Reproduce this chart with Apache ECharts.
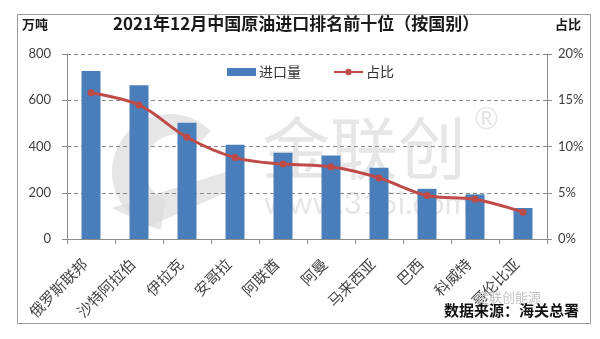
<!DOCTYPE html>
<html>
<head>
<meta charset="utf-8">
<script src="https://cdn.jsdelivr.net/npm/echarts@6/dist/echarts.min.js"></script>
<style>
  html, body { margin: 0; padding: 0; background: #fff; }
  #chart { width: 600px; height: 339px; }
</style>
</head>
<body>
<div id="chart"></div>
<script>
// 2021年12月中国原油进口前十位国家：进口量（万吨）与占比（%）
const countries = ['俄罗斯联邦', '沙特阿拉伯', '伊拉克', '安哥拉', '阿联酋', '阿曼', '马来西亚', '巴西', '科威特', '哥伦比亚'];
const importVolume = [726, 665, 503, 408, 373, 361, 308, 217, 193, 134];
const importShare = [15.8, 14.5, 11.0, 8.8, 8.1, 7.8, 6.6, 4.7, 4.3, 2.9];
const volumeTicks = [0, 200, 400, 600, 800];
const shareTicks = [0, 5, 10, 15, 20];

const CJK = '"Noto Sans CJK SC", "Noto Sans", sans-serif';
const NUM = 'Lato, "Open Sans", sans-serif';
const barColor = '#4a7ebb';
const lineColor = '#be4b48';
const mark = '#dcdcdc';

const chart = echarts.init(document.getElementById('chart'), null, { renderer: 'canvas' });

chart.setOption({
  animation: false,
  backgroundColor: '#fff',
  grid: { left: 67, right: 53, top: 54, bottom: 100 },
  graphic: [
    // frame
    { type: 'rect', z: -10, shape: { x: 17.5, y: 14.5, width: 573, height: 309 },
      style: { fill: 'none', stroke: '#9a9a9a', lineWidth: 1 } },
    // watermark logo
    { type: 'group', z: -5, silent: true, children: [
      { type: 'sector', shape: { cx: 170, cy: 172, r0: 0, r: 58, startAngle: Math.PI * 0.55, endAngle: Math.PI * 1.75 },
        style: { fill: mark, opacity: 0.7 } },
      { type: 'sector', shape: { cx: 178, cy: 168, r0: 0, r: 34, startAngle: Math.PI * 0.5, endAngle: Math.PI * 1.9 },
        style: { fill: '#fff' } },
      { type: 'polygon', shape: { points: [[112, 208], [232, 170], [232, 190], [150, 226]] },
        style: { fill: mark, opacity: 0.7 } },
      { type: 'text', left: 262, top: 114, style: { text: '金联创', font: '68px ' + CJK, fill: mark, opacity: 0.7 } },
      { type: 'text', left: 474, top: 104, style: { text: '®', font: '30px ' + NUM, fill: mark, opacity: 0.7 } },
      { type: 'text', left: 264, top: 188, style: { text: 'www.315i.com', font: '31px ' + NUM, fill: mark, opacity: 0.7 } }
    ] },
    // titles
    { type: 'text', left: 113, top: 15, style: { text: '2021年12月中国原油进口排名前十位（按国别）', font: 'bold 17px ' + CJK, fill: '#1a1a1a' } },
    { type: 'text', left: 22, top: 18, style: { text: '万吨', font: 'bold 13px ' + CJK, fill: '#1a1a1a' } },
    { type: 'text', left: 555, top: 18, style: { text: '占比', font: 'bold 13px ' + CJK, fill: '#1a1a1a' } },
    // source
    { type: 'text', left: 476, top: 291, z: 5, style: { text: '金联创能源', font: '13px ' + CJK, fill: '#c4c4c4' } },
    { type: 'circle', z: 5, shape: { cx: 488, cy: 299, r: 6 }, style: { fill: 'none', stroke: '#c4c4c4', lineWidth: 1 } },
    { type: 'text', left: 444, top: 303, z: 6, style: { text: '数据来源：海关总署', font: 'bold 15px ' + CJK, fill: '#111' } }
  ],
  legend: {
    left: 222, top: 60,
    itemWidth: 29, itemHeight: 8, itemGap: 32,
    textStyle: { fontFamily: CJK, fontSize: 14, color: '#333', padding: [0, 0, 0, -2] },
    data: [
      { name: '进口量', icon: 'rect' },
      { name: '占比' }
    ]
  },
  xAxis: {
    type: 'category',
    data: countries,
    boundaryGap: true,
    axisLine: { lineStyle: { color: '#8c8c8c' } },
    axisTick: { show: true, length: 5, alignWithLabel: false, lineStyle: { color: '#8c8c8c' } },
    axisLabel: { interval: 0, rotate: 45, margin: 16, padding: [0, 9, 0, 0],
      fontFamily: CJK, fontSize: 15, color: '#444' }
  },
  yAxis: [
    {
      type: 'value', min: 0, max: 800, interval: 200,
      axisLine: { show: true, lineStyle: { color: '#8c8c8c' } },
      axisTick: { show: true, length: 5, lineStyle: { color: '#8c8c8c' } },
      axisLabel: { fontFamily: NUM, fontSize: 13, color: '#404040', margin: 16,
        customValues: volumeTicks },
      splitLine: { show: true, lineStyle: { color: '#8a8a8a', type: [4, 3], width: 1 } }
    },
    {
      type: 'value', min: 0, max: 20, interval: 5,
      axisLine: { show: true, lineStyle: { color: '#8c8c8c' } },
      axisTick: { show: true, length: 5, lineStyle: { color: '#8c8c8c' } },
      axisLabel: { fontFamily: NUM, fontSize: 13, color: '#404040', margin: 11,
        customValues: shareTicks, formatter: v => v + '%' },
      splitLine: { show: false }
    }
  ],
  series: [
    {
      name: '进口量', type: 'bar', yAxisIndex: 0,
      data: importVolume, barWidth: 19,
      itemStyle: { color: barColor }
    },
    {
      name: '占比', type: 'line', yAxisIndex: 1,
      data: importShare, smooth: 0.35,
      symbol: 'circle', symbolSize: 7,
      lineStyle: { color: lineColor, width: 3 },
      itemStyle: { color: lineColor }
    }
  ]
});
</script>
</body>
</html>
